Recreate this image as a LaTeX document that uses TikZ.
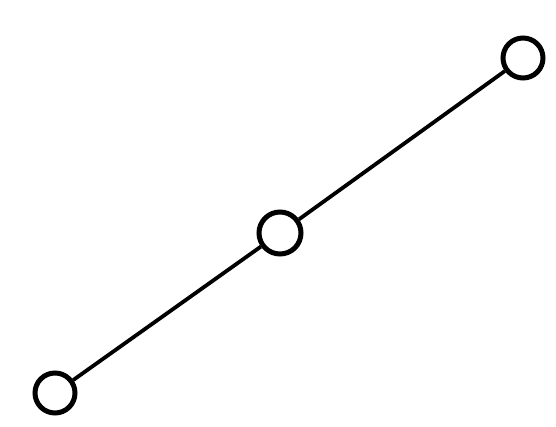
\documentclass[tikz,border=0pt]{standalone}
\begin{document}
\begin{tikzpicture}[x=0.5pt,y=-0.5pt,
  vertex/.style={circle,draw=black,line width=2.5pt,minimum size=20pt,inner sep=0pt,fill=white},
  edge/.style={draw=black,line width=1.9pt}]
\useasboundingbox (0,0) rectangle (556,427);
\node[vertex] (a) at (55,393) {};
\node[vertex,minimum size=21pt] (b) at (280,233) {};
\node[vertex] (c) at (523,58) {};
\draw[edge] (a) -- (b);
\draw[edge] (b) -- (c);
\end{tikzpicture}
\end{document}
